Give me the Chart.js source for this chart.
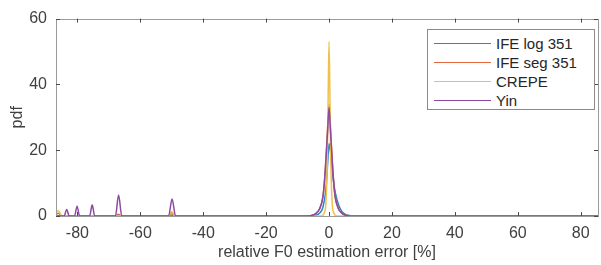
<!DOCTYPE html>
<html>
<head>
<meta charset="utf-8">
<script src="https://cdn.jsdelivr.net/npm/chart.js@4/dist/chart.umd.min.js"></script>
<style>
	body { margin: 0; background: #fff; }
	#wrap { position: relative; width: 601px; height: 265px; }
	#legend {
		position: absolute; left: 427px; top: 29px; width: 168px; height: 81px;
		box-sizing: border-box; border: 1px solid #8a8a8a; background: #fff;
		font: 15px "Liberation Sans", Arial, sans-serif; color: #262626;
	}
	.row { position: absolute; left: 0; height: 19px; line-height: 19px; }
	.row span.ln { position: absolute; left: 6px; top: 9px; width: 57px; border-top: 1px solid; }
	.row span.tx { position: absolute; left: 68px; white-space: nowrap; }
</style>
</head>
<body>
<div id="wrap">
	<canvas id="pdfChart" width="601" height="265"></canvas>
	<div id="legend"></div>
</div>
<script>
const seriesNames = ["IFE log 351", "IFE seg 351", "CREPE", "Yin"];
const seriesColors = ["#2a86c8", "#e0683a", "#f0c04c", "#8e4aa0"];
const xTickValues = [-80, -60, -40, -20, 0, 20, 40, 60, 80];
const yTickValues = [0, 20, 40, 60];

const ifeLogX = [-86.8, -51, -50, -49, -6, -4, -3, -2, -1, -0.5, 0, 0.5, 1, 1.5, 2, 3, 4, 5, 6, 8, 85.5];
const ifeLogY = [0, 0, 0.3, 0, 0, 0.3, 0.9, 2.5, 8, 15, 22, 19, 14, 10, 7, 3.5, 1.5, 0.6, 0.2, 0, 0];

const ifeSegX = [-86.8, -86, -85, -68, -67, -66, -51, -50, -49, -7, -5, -4, -3, -2, -1.5, -1, -0.5, 0, 0.5, 1, 1.5, 2, 3, 4, 5, 7, 85.5];
const ifeSegY = [0.5, 0.8, 0, 0, 0.5, 0, 0, 1, 0, 0, 0.3, 0.9, 2.2, 5.5, 10, 17, 26, 34, 26, 17, 10, 5.5, 2.2, 0.9, 0.3, 0, 0];

const crepeX = [-86.8, -86, -85, -51, -50, -49, -2.5, -1.5, -1, -0.6, -0.3, 0, 0.3, 0.6, 1, 1.5, 2.5, 85.5];
const crepeY = [1.2, 1.6, 0, 0, 1.4, 0, 0, 1, 4, 15, 35, 53, 35, 15, 4, 1, 0, 0];

const yinX = [-86.8, -84.2, -83.4, -82.6, -80.9, -80.1, -79.3, -76.1, -75.3, -74.5, -67.9, -66.9, -65.9,
	-51, -49.9, -48.8, -7, -5, -4, -3, -2, -1.5, -1, -0.5, 0, 0.5, 1, 1.5, 2, 3, 4, 5, 7, 85.5];
const yinY = [0, 0, 2, 0, 0, 3, 0, 0, 3.4, 0, 0, 6.4, 0,
	0, 5.2, 0, 0, 0.3, 0.9, 2.2, 5.5, 10, 17, 25, 33, 25, 17, 10, 5.5, 2.2, 0.9, 0.3, 0, 0];

const seriesX = [ifeLogX, ifeSegX, crepeX, yinX];
const seriesY = [ifeLogY, ifeSegY, crepeY, yinY];

const font = "'Liberation Sans', Arial, sans-serif";

// legend in html, matlab style box
const legendBox = document.getElementById("legend");
seriesNames.forEach((name, i) => {
	const row = document.createElement("div");
	row.className = "row";
	row.style.top = (4 + i * 19) + "px";
	row.innerHTML = '<span class="ln" style="border-color:' + seriesColors[i] + '"></span><span class="tx">' + name + "</span>";
	legendBox.appendChild(row);
});

// axes box plus inward tick marks
const boxPlugin = {
	id: "matlabBox",
	afterDraw(chart) {
		const { ctx, chartArea: a, scales } = chart;
		ctx.save();
		ctx.strokeStyle = "#9a9a9a";
		ctx.lineWidth = 1;
		ctx.strokeRect(Math.round(a.left) + 0.5, Math.round(a.top) + 0.5, Math.round(a.right - a.left), Math.round(a.bottom - a.top));
		ctx.strokeStyle = "#4a4a4a";
		ctx.beginPath();
		xTickValues.forEach((v) => {
			const px = Math.round(scales.x.getPixelForValue(v)) + 0.5;
			ctx.moveTo(px, a.bottom); ctx.lineTo(px, a.bottom - 4);
			ctx.moveTo(px, a.top); ctx.lineTo(px, a.top + 4);
		});
		yTickValues.forEach((v) => {
			const py = Math.round(scales.y.getPixelForValue(v)) + 0.5;
			ctx.moveTo(a.left, py); ctx.lineTo(a.left + 4, py);
			ctx.moveTo(a.right, py); ctx.lineTo(a.right - 4, py);
		});
		ctx.stroke();
		ctx.restore();
	},
};

new Chart(document.getElementById("pdfChart"), {
	type: "line",
	data: {
		datasets: seriesNames.map((name, i) => ({
			label: name,
			data: seriesX[i].map((x, k) => ({ x: x, y: seriesY[i][k] })),
			borderColor: seriesColors[i],
			borderWidth: 1.5,
			pointRadius: 0,
			cubicInterpolationMode: "monotone",
			order: seriesNames.length - i,
		})),
	},
	options: {
		responsive: false,
		animation: false,
		layout: { padding: { top: 18, right: 3, left: 0, bottom: 0 } },
		scales: {
			x: {
				type: "linear",
				min: -86.8,
				max: 85.5,
				grid: { display: false, drawTicks: false },
				border: { display: false },
				afterBuildTicks: (scale) => { scale.ticks = xTickValues.map((v) => ({ value: v })); },
				afterFit: (scale) => { scale.height = 49; },
				ticks: { font: { family: font, size: 16 }, color: "#404040", padding: 8, maxRotation: 0 },
				title: {
					display: true,
					text: "relative F0 estimation error [%]",
					font: { family: font, size: 16 },
					color: "#404040",
					padding: { top: 0, bottom: 3 },
				},
			},
			y: {
				min: 0,
				max: 60,
				grid: { display: false, drawTicks: false },
				border: { display: false },
				afterBuildTicks: (scale) => { scale.ticks = yTickValues.map((v) => ({ value: v })); },
				afterFit: (scale) => { scale.width = 56; },
				ticks: { font: { family: font, size: 16 }, color: "#404040", padding: 9 },
				title: {
					display: true,
					text: "pdf",
					font: { family: font, size: 16 },
					color: "#404040",
					padding: { top: 8, bottom: 0 },
				},
			},
		},
		plugins: {
			legend: { display: false },
			tooltip: { enabled: false },
		},
	},
	plugins: [boxPlugin],
});
</script>
</body>
</html>
